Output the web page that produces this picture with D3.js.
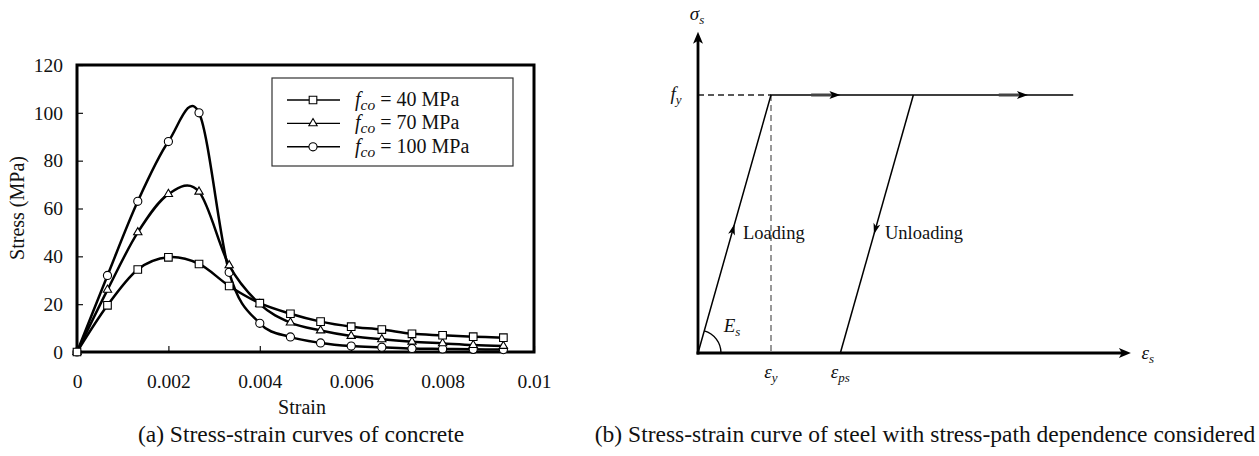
<!DOCTYPE html>
<html>
<head>
<meta charset="utf-8">
<script src="https://cdn.jsdelivr.net/npm/d3@7"></script>
<style>
  body { margin: 0; background: #fff; }
  svg text { font-family: "Liberation Serif", "Times New Roman", serif; fill: #111; }
</style>
</head>
<body>
<div id="chart"></div>
<script>
// (a) concrete stress-strain data
var strain = [0, 0.000667, 0.00133, 0.002, 0.00267, 0.00333, 0.004, 0.00467, 0.00533, 0.006, 0.00667, 0.00733, 0.008, 0.00867, 0.00933];
var stress40 = [0, 19.5, 34.5, 39.6, 36.8, 27.6, 20.4, 16, 12.7, 10.6, 9.4, 7.6, 7.0, 6.4, 6.0];
var stress70 = [0, 26, 50, 66, 67, 36.2, 20, 12.3, 9, 6.7, 5.3, 4.3, 3.6, 2.9, 2.5];
var stress100 = [0, 32, 63, 88, 100, 33.3, 12, 6.3, 3.8, 2.5, 2.0, 1.5, 1.3, 1.1, 1.0];
var seriesNames = ["40", "70", "100"];
var xTicks = [0, 0.002, 0.004, 0.006, 0.008, 0.01];
var xTickLabels = ["0", "0.002", "0.004", "0.006", "0.008", "0.01"];
var yTicks = [0, 20, 40, 60, 80, 100, 120];

// (b) idealised steel model (schematic units)
var fy = 1;
var epsY = 1;
var epsPs = 1.95;
var plateauEnd = 5.14;
var axisEndX = 5.93;
var axisEndY = 1.245;

var svg = d3.select("#chart").append("svg")
  .attr("width", 1259)
  .attr("height", 456);

// ---------- panel (a) ----------
var x = d3.scaleLinear().domain([0, 0.01]).range([77, 534]);
var y = d3.scaleLinear().domain([0, 120]).range([352, 65]);

var gA = svg.append("g");

gA.append("g")
  .attr("transform", "translate(0,352)")
  .call(d3.axisBottom(x).tickValues(xTicks).tickSizeInner(-6).tickSizeOuter(0).tickPadding(22)
    .tickFormat(function(d, i) { return xTickLabels[i]; }))
  .call(function(g) {
    g.select(".domain").remove();
    g.selectAll("line").attr("stroke", "#111").attr("stroke-width", 1.2);
    g.selectAll("text").attr("font-size", 19.5).attr("font-family", "Liberation Serif");
  });

gA.append("g")
  .attr("transform", "translate(77,0)")
  .call(d3.axisLeft(y).tickValues(yTicks).tickSizeInner(-6).tickSizeOuter(0).tickPadding(14))
  .call(function(g) {
    g.select(".domain").remove();
    g.selectAll("line").attr("stroke", "#111").attr("stroke-width", 1.2);
    g.selectAll("text").attr("font-size", 19.5).attr("font-family", "Liberation Serif");
  });

gA.append("rect")
  .attr("x", x(0)).attr("y", y(120))
  .attr("width", x(0.01) - x(0)).attr("height", y(0) - y(120))
  .attr("fill", "none").attr("stroke", "#000").attr("stroke-width", 3);

var line = d3.line()
  .x(function(d) { return x(d[0]); })
  .y(function(d) { return y(d[1]); })
  .curve(d3.curveCatmullRom.alpha(0));

var symbols = {
  "40": d3.symbol().type(d3.symbolSquare).size(58),
  "70": d3.symbol().type(d3.symbolTriangle).size(30),
  "100": d3.symbol().type(d3.symbolCircle).size(52)
};
var values = { "40": stress40, "70": stress70, "100": stress100 };

// draw 100 first so squares sit on top
["100", "70", "40"].forEach(function(k) {
  var pts = strain.map(function(s, i) { return [s, values[k][i]]; });
  gA.append("path")
    .attr("d", line(pts))
    .attr("fill", "none").attr("stroke", "#000").attr("stroke-width", 2.5);
  gA.selectAll(".m" + k)
    .data(pts).enter().append("path")
    .attr("transform", function(d) { return "translate(" + x(d[0]) + "," + y(d[1]) + ")"; })
    .attr("d", symbols[k]())
    .attr("fill", "#fff").attr("stroke", "#000").attr("stroke-width", 1.1);
});

// legend
var leg = gA.append("g");
leg.append("rect")
  .attr("x", 272).attr("y", 78).attr("width", 241).attr("height", 88)
  .attr("fill", "#fff").attr("stroke", "#333").attr("stroke-width", 1.2);
seriesNames.forEach(function(k, i) {
  var ly = 100 + i * 23.4;
  leg.append("line").attr("x1", 287).attr("x2", 340).attr("y1", ly).attr("y2", ly)
    .attr("stroke", "#000").attr("stroke-width", 1.4);
  leg.append("path")
    .attr("transform", "translate(313," + ly + ")")
    .attr("d", symbols[k]())
    .attr("fill", "#fff").attr("stroke", "#000").attr("stroke-width", 1.1);
  var t = leg.append("text").attr("x", 355).attr("y", ly + 6).attr("font-size", 20);
  t.append("tspan").attr("font-style", "italic").text("f");
  t.append("tspan").attr("font-style", "italic").attr("font-size", 15.5).attr("dy", 4).text("co");
  t.append("tspan").attr("dy", -4).text(" = " + k + " MPa");
});

gA.append("text")
  .attr("x", 302).attr("y", 414)
  .attr("text-anchor", "middle").attr("font-size", 20)
  .text("Strain");

gA.append("text")
  .attr("transform", "translate(24,208) rotate(-90)")
  .attr("text-anchor", "middle").attr("font-size", 20)
  .text("Stress (MPa)");

gA.append("text")
  .attr("x", 301).attr("y", 442)
  .attr("text-anchor", "middle").attr("font-size", 23.5)
  .text("(a) Stress-strain curves of concrete");

// ---------- panel (b) ----------
var xs = d3.scaleLinear().domain([0, 1]).range([698, 771]);
var ys = d3.scaleLinear().domain([0, 1]).range([353, 95]);
var gB = svg.append("g");

function arrowHead(g, tipX, tipY, angle, len, half) {
  // angle in degrees, direction of travel
  g.append("path")
    .attr("d", "M0,0 L" + (-len) + "," + (-half) + " L" + (-len * 0.75) + ",0 L" + (-len) + "," + half + " Z")
    .attr("transform", "translate(" + tipX + "," + tipY + ") rotate(" + angle + ")")
    .attr("fill", "#000");
}

// dashed guides
gB.append("line")
  .attr("x1", xs(0)).attr("x2", xs(epsY)).attr("y1", ys(fy)).attr("y2", ys(fy))
  .attr("stroke", "#222").attr("stroke-width", 1.5).attr("stroke-dasharray", "6,4");
gB.append("line")
  .attr("x1", xs(epsY)).attr("x2", xs(epsY)).attr("y1", ys(fy)).attr("y2", ys(0))
  .attr("stroke", "#777").attr("stroke-width", 1.5).attr("stroke-dasharray", "6,4");

// axes
gB.append("line")
  .attr("x1", xs(0)).attr("x2", xs(0)).attr("y1", ys(0) + 1.5).attr("y2", ys(axisEndY) + 6)
  .attr("stroke", "#000").attr("stroke-width", 2.8);
arrowHead(gB, xs(0), ys(axisEndY), -90, 12, 5);
gB.append("line")
  .attr("x1", xs(0) - 1.5).attr("x2", xs(axisEndX) - 6).attr("y1", ys(0)).attr("y2", ys(0))
  .attr("stroke", "#000").attr("stroke-width", 2.8);
arrowHead(gB, xs(axisEndX), ys(0), 0, 12, 5);

// loading path and plateau
var pathLine = d3.line().x(function(d) { return xs(d[0]); }).y(function(d) { return ys(d[1]); });
gB.append("path")
  .attr("d", pathLine([[0, 0], [epsY, fy], [plateauEnd, fy]]))
  .attr("fill", "none").attr("stroke", "#000").attr("stroke-width", 1.5);
gB.append("path")
  .attr("d", pathLine([[epsPs + epsY, fy], [epsPs, 0]]))
  .attr("fill", "none").attr("stroke", "#000").attr("stroke-width", 1.5);

// arrows on the plateau
[[1.55, 1.95], [4.12, 4.52]].forEach(function(a) {
  gB.append("line")
    .attr("x1", xs(a[0])).attr("x2", xs(a[1]) - 8).attr("y1", ys(fy)).attr("y2", ys(fy))
    .attr("stroke", "#444").attr("stroke-width", 3);
  arrowHead(gB, xs(a[1]), ys(fy), 0, 11, 4);
});

// arrows on loading / unloading branches
var loadAng = Math.atan2(ys(fy) - ys(0), xs(epsY) - xs(0)) * 180 / Math.PI;
arrowHead(gB, xs(0.5), ys(0.5), loadAng, 11, 3.5);
arrowHead(gB, xs(epsPs + 0.46), ys(0.46), loadAng + 180, 11, 3.5);

// Es arc
var arcR = 23;
var th = loadAng * Math.PI / 180;
gB.append("path")
  .attr("d", "M" + (xs(0) + arcR) + "," + ys(0) + " A" + arcR + "," + arcR + " 0 0 0 " +
    (xs(0) + arcR * Math.cos(th)) + "," + (ys(0) + arcR * Math.sin(th)))
  .attr("fill", "none").attr("stroke", "#000").attr("stroke-width", 1.4);

// labels
function symLabel(g, lx, ly, main, sub, anchor) {
  var t = g.append("text").attr("x", lx).attr("y", ly).attr("font-size", 19)
    .attr("font-style", "italic").attr("text-anchor", anchor || "middle");
  t.append("tspan").text(main);
  t.append("tspan").attr("font-size", 13).attr("dy", 4).text(sub);
  return t;
}
symLabel(gB, xs(0) - 1, 20, "σ", "s");
symLabel(gB, xs(0) - 22, ys(fy) + 5, "f", "y");
symLabel(gB, xs(epsY), ys(0) + 25, "ε", "y");
symLabel(gB, xs(epsPs), ys(0) + 25, "ε", "ps");
symLabel(gB, xs(axisEndX) + 17, ys(0) + 6, "ε", "s");
symLabel(gB, xs(0) + 34, ys(0) - 21, "E", "s");

gB.append("text").attr("x", 743).attr("y", 239).attr("font-size", 18.5).text("Loading");
gB.append("text").attr("x", 885).attr("y", 239).attr("font-size", 18.5).text("Unloading");

gB.append("text")
  .attr("x", 925).attr("y", 442)
  .attr("text-anchor", "middle").attr("font-size", 23.5)
  .text("(b) Stress-strain curve of steel with stress-path dependence considered");
</script>
</body>
</html>
